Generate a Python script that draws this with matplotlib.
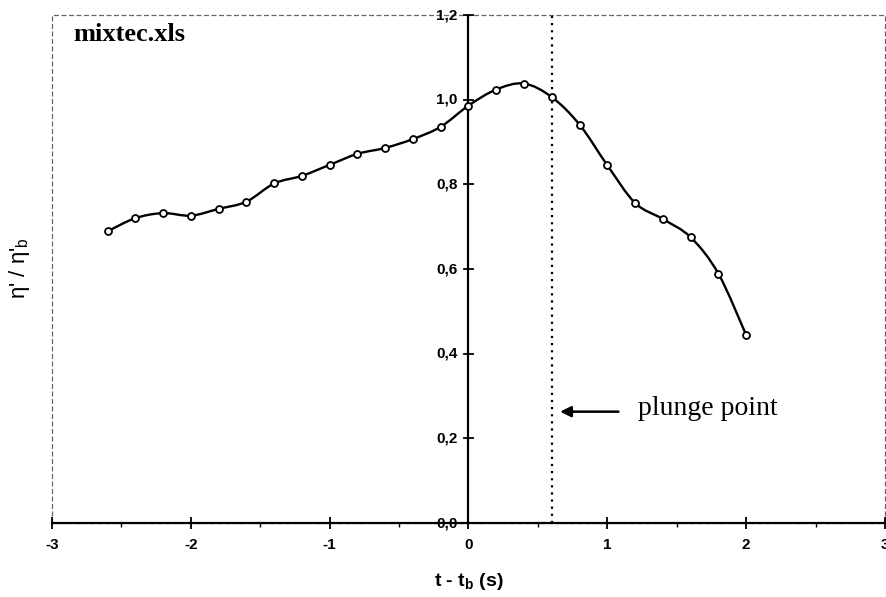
import matplotlib
matplotlib.use("Agg")
import matplotlib.pyplot as plt
from matplotlib.path import Path
from matplotlib.patches import PathPatch, Rectangle
from matplotlib.ticker import MultipleLocator

# ---- data ----
t_rel = [-2.6, -2.4, -2.2, -2.0, -1.8, -1.6, -1.4, -1.2, -1.0, -0.8, -0.6, -0.4, -0.2,
         0.0, 0.2, 0.4, 0.6, 0.8, 1.0, 1.2, 1.4, 1.6, 1.8, 2.0]
eta_ratio = [0.689, 0.720, 0.732, 0.726, 0.742, 0.759, 0.802, 0.820, 0.846, 0.872, 0.886, 0.907, 0.936,
             0.986, 1.024, 1.038, 1.006, 0.941, 0.845, 0.756, 0.718, 0.675, 0.589, 0.444]
plunge_x = 0.6
x_ticks = [-3, -2, -1, 0, 1, 2, 3]
y_ticks = [0.0, 0.2, 0.4, 0.6, 0.8, 1.0, 1.2]

plt.rcParams['axes.unicode_minus'] = False
plt.rcParams['mathtext.fontset'] = 'custom'
plt.rcParams['mathtext.rm'] = 'Liberation Sans'
plt.rcParams['mathtext.bf'] = 'Liberation Sans:bold'
plt.rcParams['mathtext.it'] = 'Liberation Sans:italic'

fig = plt.figure(figsize=(8.87, 5.97), dpi=100)
ax = fig.add_axes([52/887, 1-523/597, (885-52)/887, (523-15)/597])
ax.set_xlim(-3, 3)
ax.set_ylim(0, 1.2)

# smoothed line (Bezier, Excel-like)
verts = [(t_rel[0], eta_ratio[0])]
codes = [Path.MOVETO]
n = len(t_rel)
k = 1/6
for i in range(n-1):
    p0 = (t_rel[i-1], eta_ratio[i-1]) if i > 0 else (t_rel[i], eta_ratio[i])
    p1 = (t_rel[i], eta_ratio[i])
    p2 = (t_rel[i+1], eta_ratio[i+1])
    p3 = (t_rel[i+2], eta_ratio[i+2]) if i+2 < n else p2
    c1 = (p1[0] + (p2[0]-p0[0])*k, p1[1] + (p2[1]-p0[1])*k)
    c2 = (p2[0] - (p3[0]-p1[0])*k, p2[1] - (p3[1]-p1[1])*k)
    verts += [c1, c2, p2]
    codes += [Path.CURVE4]*3
ax.add_patch(PathPatch(Path(verts, codes), facecolor='none', edgecolor='black', lw=1.7, zorder=3))
ax.plot(t_rel, eta_ratio, linestyle='none', marker='o', markersize=5,
        markerfacecolor='white', markeredgecolor='black', markeredgewidth=1.3, zorder=4)

# plunge line
ax.plot([plunge_x, plunge_x], [0, 1.2], color='black', lw=1.6, linestyle=(0, (1, 2.2)), zorder=2)

# spines
for s in ['top', 'right', 'left']:
    ax.spines[s].set_visible(False)
ax.spines['bottom'].set_linewidth(1.6)
ax.add_patch(Rectangle((0, 0), 1, 1, transform=ax.transAxes, fill=False,
                       edgecolor='#666666', lw=0.9, linestyle=(0, (4, 2)), zorder=1, clip_on=False))
# y-axis at x = 0
ax.axvline(0, color='black', lw=1.6, zorder=2)

# ticks
ax.set_xticks(x_ticks)
ax.xaxis.set_minor_locator(MultipleLocator(0.5))
ax.tick_params(axis='x', which='major', direction='inout', length=9, width=1.3, pad=6)
ax.tick_params(axis='x', which='minor', direction='out', length=3, width=1.0)
ax.set_yticks([])
for lab in ax.get_xticklabels():
    lab.set_fontweight('bold')
    lab.set_fontfamily('Liberation Sans')
    lab.set_fontsize(11)

# y ticks at x = 0 drawn as data lines and text
for yv in y_ticks:
    ax.plot([-0.036, 0.036], [yv, yv], color='black', lw=1.3, clip_on=False, zorder=2)
    ax.text(-0.08, yv, ('%.1f' % yv).replace('.', ','), ha='right', va='center',
            fontsize=11, fontweight='bold', family='Liberation Sans')

# annotations
ax.text(-2.85, 1.155, 'mixtec.xls', ha='left', va='center', fontsize=19,
        fontweight='bold', family='Liberation Serif')
ax.annotate('', xy=(0.64, 0.263), xytext=(1.10, 0.263),
            arrowprops=dict(arrowstyle='-|>', color='black', lw=1.8, mutation_scale=16))
ax.text(1.22, 0.27, 'plunge point', ha='left', va='center', fontsize=20,
        family='Liberation Serif')

# labels
fig.text(469/887, 1-582/597, r't - t$_\mathbf{b}$ (s)', ha='center', va='center',
         fontsize=14, fontweight='bold', family='Liberation Sans')
fig.text(20/887, 1-268/597, "η' / η'$_\\mathrm{b}$", ha='center', va='center',
         rotation=90, fontsize=16, family='Liberation Sans')

fig.savefig('out.png', dpi=100)
